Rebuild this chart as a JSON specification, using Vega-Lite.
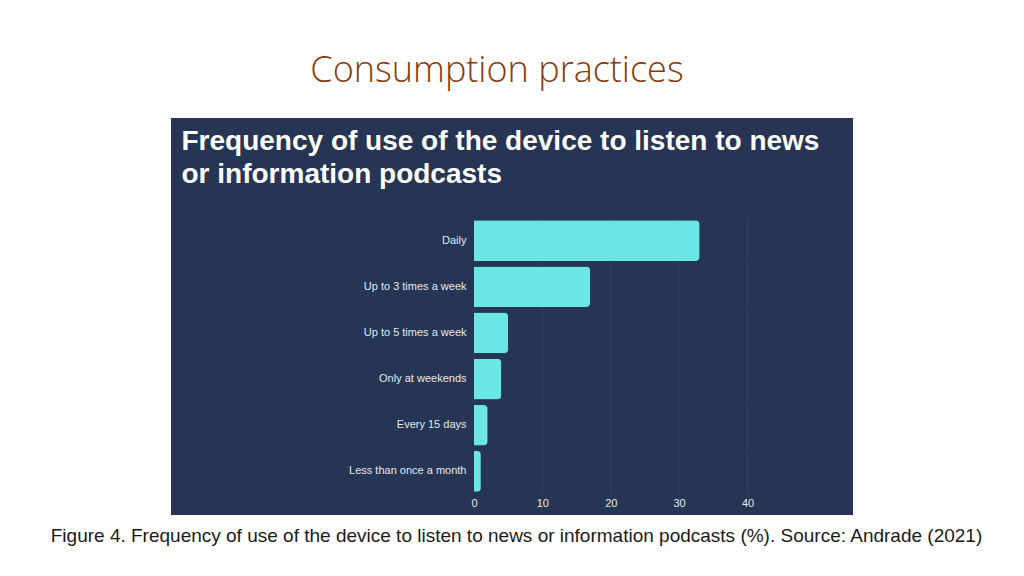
{
  "$schema": "https://vega.github.io/schema/vega-lite/v6.json",
  "autosize": {"type": "none"},
  "padding": {"left": 171, "top": 118, "right": 171, "bottom": 61},
  "width": 682,
  "height": 397,
  "background": "#ffffff",
  "config": {
    "view": {"fill": "#253553", "stroke": null},
    "font": "Liberation Sans"
  },
  "title": {
    "text": "Consumption practices",
    "font": "Open Sans",
    "fontWeight": 300,
    "fontSize": 36,
    "color": "#843C0C",
    "anchor": "middle",
    "frame": "group",
    "dx": -15,
    "baseline": "alphabetic",
    "offset": 0
  },
  "data": {
    "values": [
      {"frequency": "Daily", "percent": 33},
      {"frequency": "Up to 3 times a week", "percent": 17},
      {"frequency": "Up to 5 times a week", "percent": 5},
      {"frequency": "Only at weekends", "percent": 4},
      {"frequency": "Every 15 days", "percent": 2},
      {"frequency": "Less than once a month", "percent": 1}
    ]
  },
  "encoding": {
    "y": {
      "field": "frequency",
      "type": "nominal",
      "sort": null,
      "scale": {"range": [100, 376], "paddingInner": 0.12, "paddingOuter": 0.05},
      "axis": {
        "orient": "left",
        "offset": -303,
        "ticks": false,
        "domain": false,
        "grid": false,
        "labelPadding": 8,
        "labelFontSize": 11,
        "labelColor": "#E4E9F0",
        "labelFont": "Liberation Sans",
        "title": ["Frequency of use of the device to listen to news", "or information podcasts"],
        "titleFont": "Liberation Sans",
        "titleFontWeight": "bold",
        "titleFontSize": 28,
        "titleLineHeight": 33,
        "titleColor": "#ffffff",
        "titleAngle": 0,
        "titleAlign": "left",
        "titleBaseline": "alphabetic",
        "titleX": -293,
        "titleY": 31
      }
    }
  },
  "layer": [
    {
      "mark": {"type": "tick", "orient": "vertical", "size": 46.2, "thickness": 1, "color": "#3A4A68"},
      "encoding": {"x": {"datum": 10, "type": "quantitative"}}
    },
    {
      "mark": {"type": "tick", "orient": "vertical", "size": 46.2, "thickness": 1, "color": "#3A4A68"},
      "encoding": {"x": {"datum": 20, "type": "quantitative"}}
    },
    {
      "mark": {"type": "tick", "orient": "vertical", "size": 46.2, "thickness": 1, "color": "#3A4A68"},
      "encoding": {"x": {"datum": 30, "type": "quantitative"}}
    },
    {
      "mark": {"type": "tick", "orient": "vertical", "size": 46.2, "thickness": 1, "color": "#3A4A68"},
      "encoding": {"x": {"datum": 40, "type": "quantitative"}}
    },
    {
      "mark": {"type": "bar", "color": "#6BE5E5", "cornerRadiusEnd": 4},
      "encoding": {
        "x": {
          "field": "percent",
          "type": "quantitative",
          "scale": {"domain": [0, 40], "range": [303, 576.5], "nice": false},
          "axis": {
            "values": [0, 10, 20, 30, 40],
            "orient": "bottom",
            "offset": -21,
            "ticks": false,
            "domain": false,
            "grid": false,
            "labelFlush": false,
            "labelPadding": 3,
            "labelFontSize": 11,
            "labelColor": "#E4E9F0",
            "labelFont": "Liberation Sans",
            "title": "Figure 4. Frequency of use of the device to listen to news or information podcasts (%). Source: Andrade (2021)",
            "titleFont": "Liberation Sans",
            "titleFontSize": 19,
            "titleFontWeight": "normal",
            "titleColor": "#1a1a1a",
            "titlePadding": 18,
            "titleX": 345
          }
        }
      }
    }
  ]
}
